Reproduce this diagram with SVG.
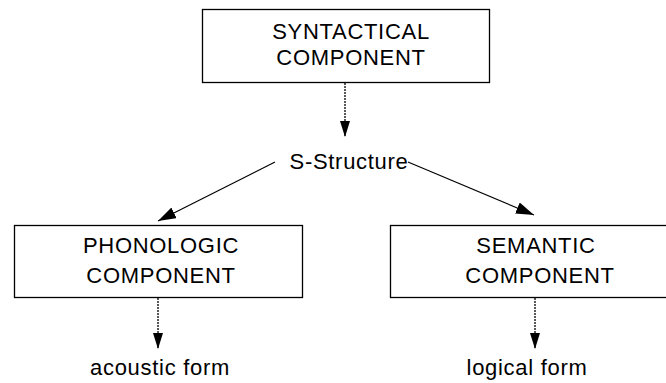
<svg xmlns="http://www.w3.org/2000/svg" width="666" height="383" viewBox="0 0 666 383">
<defs>
<style>
.box{fill:#fff;stroke:#000;stroke-width:1.3}
.t{font-family:"Liberation Sans",Arial,sans-serif;font-size:22px;letter-spacing:0.7px;fill:#000;text-anchor:middle}
.solid{fill:none;stroke:#000;stroke-width:1.2}
.dash{fill:none;stroke:#000;stroke-width:1.3;stroke-dasharray:2,1}
</style>
<marker id="ah" markerUnits="userSpaceOnUse" markerWidth="16" markerHeight="10" refX="16" refY="5" orient="auto" viewBox="0 0 16 10">
<path d="M0,0 L16,5 L0,10 z" fill="#000"/>
</marker>
<marker id="ah2" markerUnits="userSpaceOnUse" markerWidth="18" markerHeight="12" refX="18" refY="6" orient="auto" viewBox="0 0 18 12">
<path d="M0,0 L18,6 L0,12 z" fill="#000"/>
</marker>
</defs>
<rect width="666" height="383" fill="#fff"/>
<g id="connectors">
<line class="dash" x1="345" y1="83" x2="345" y2="137" marker-end="url(#ah)"/>
<line class="solid" x1="275" y1="162" x2="158" y2="221" marker-end="url(#ah2)"/>
<line class="solid" x1="408" y1="162" x2="534" y2="215" marker-end="url(#ah2)"/>
<line class="dash" x1="158" y1="298" x2="158" y2="349" marker-end="url(#ah)"/>
<line class="dash" x1="535" y1="298" x2="535" y2="349" marker-end="url(#ah)"/>
</g>
<g id="syntactical">
<rect class="box" x="202.5" y="9.5" width="287" height="73"/>
<text class="t" x="351" y="39">SYNTACTICAL</text>
<text class="t" x="351" y="65">COMPONENT</text>
</g>
<g id="sstructure">
<text class="t" x="349" y="169">S-Structure</text>
</g>
<g id="phonologic">
<rect class="box" x="14.5" y="225.5" width="288" height="72"/>
<text class="t" x="161" y="253">PHONOLOGIC</text>
<text class="t" x="161" y="283">COMPONENT</text>
</g>
<g id="semantic">
<rect class="box" x="390.5" y="225.5" width="278" height="72"/>
<text class="t" x="536" y="253">SEMANTIC</text>
<text class="t" x="540" y="283">COMPONENT</text>
</g>
<g id="acoustic">
<text class="t" x="160" y="375">acoustic form</text>
</g>
<g id="logical">
<text class="t" x="527" y="375">logical form</text>
</g>
</svg>
